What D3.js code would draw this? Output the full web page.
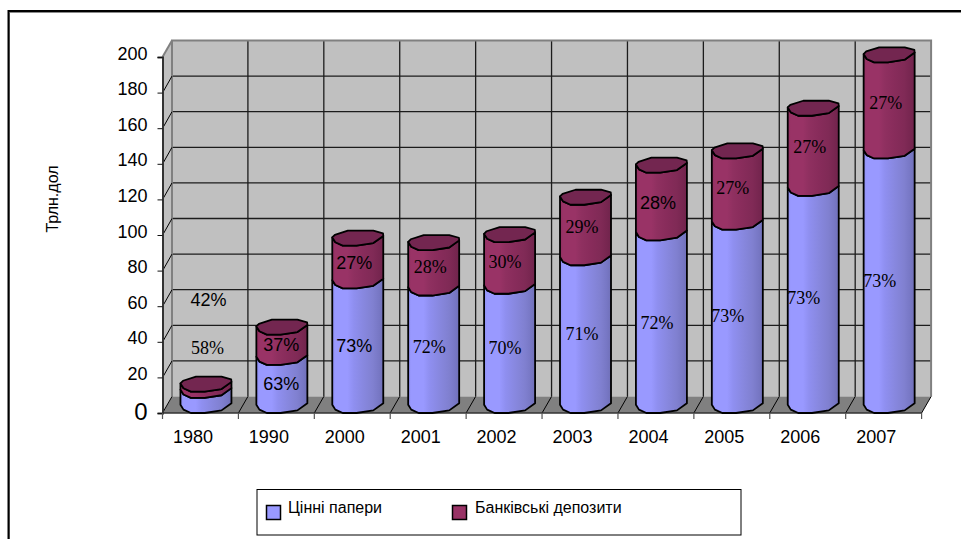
<!DOCTYPE html>
<html><head><meta charset="utf-8">
<script src="https://cdnjs.cloudflare.com/ajax/libs/d3/7.8.5/d3.min.js"></script>
<style>html,body{margin:0;padding:0;background:#fff;overflow:hidden}svg{display:block}</style>
</head><body><svg id="c" width="961" height="539"></svg>
<script>
const categories = ["1980","1990","2000","2001","2002","2003","2004","2005","2006","2007"];
const securities = [8.5,27,70,66,67,83,97,103,122,143];
const deposits   = [3.5,17,24,25.5,29,34,38,40,45,54];
const securityShare = [58,63,73,72,70,71,72,73,73,73];
const depositShare  = [42,37,27,28,30,29,28,27,27,27];
// where each percentage label sits, in axis units
const securityLabelAt = [36.5,16.3,37.6,37,36.5,44.4,51,54.5,64.6,74.2];
const depositLabelAt  = [63.5,38.2,84.3,82,84.8,104.5,118,126.4,149.4,174.2];
const securitySerif = [1,0,0,1,1,1,1,1,1,1];
const depositSerif  = [0,0,0,1,1,1,0,1,1,1];
const yTicks = [0,20,40,60,80,100,120,140,160,180,200];
const seriesNames = ["Цінні папери","Банківські депозити"];
const yTitle = "Трлн.дол";

const SANS="'Liberation Sans',Arial,sans-serif", SERIF="'Liberation Serif','Times New Roman',serif";
const svg=d3.select("#c");
const y=d3.scaleLinear().domain([0,200]).range([413,57]);
const x=d3.scaleBand().domain(categories).range([162.5,921.6]);
const dx=9.5, dy=16.5;
const left=x.range()[0], right=x.range()[1], bot=y(0), top_=y(200);

// outer frame
svg.append("path").attr("d",`M9.5,539V12.5H961`).attr("fill","none").attr("stroke","#8a8a8a").attr("stroke-width",1);
svg.append("path").attr("d",`M8.5,539V11H961`).attr("fill","none").attr("stroke","#000").attr("stroke-width",2);

// walls and floor
svg.append("rect").attr("x",left+dx).attr("y",top_-dy).attr("width",right-left).attr("height",bot-top_).attr("fill","#c0c0c0");
svg.append("path").attr("d",`M${left},${bot}L${left},${top_}L${left+dx},${top_-dy}L${left+dx},${bot-dy}Z`).attr("fill","#c0c0c0");
svg.append("path").attr("d",`M${left},${bot}L${left+dx},${bot-dy}H${right+dx}L${right},${bot}Z`).attr("fill","#808080");

const grid=svg.append("g").attr("stroke","#1c1c1c").attr("stroke-width",1.3);
grid.selectAll(".h").data(yTicks.slice(1,-1)).join("line").attr("x1",left+dx).attr("x2",right+dx).attr("y1",d=>y(d)-dy).attr("y2",d=>y(d)-dy);
const edges=categories.map(c=>x(c)).concat([right]);
grid.selectAll(".v").data(edges.slice(1,-1)).join("line").attr("x1",d=>d+dx).attr("x2",d=>d+dx).attr("y1",top_-dy).attr("y2",bot-dy);
// wall outline
svg.append("path").attr("d",`M${left+dx},${bot-dy}V${top_-dy}H${right+dx}V${bot-dy}`).attr("fill","none").attr("stroke","#808080").attr("stroke-width",2);
svg.append("path").attr("d",`M${left},${top_}L${left+dx},${top_-dy}`).attr("stroke","#808080").attr("stroke-width",2);
// diagonals
const diag=svg.append("g").attr("stroke","#000").attr("stroke-width",1);
diag.selectAll(".d").data(yTicks.slice(1,-1)).join("line").attr("x1",left+1).attr("x2",left+dx).attr("y1",d=>y(d)-1.5).attr("y2",d=>y(d)-dy);
diag.selectAll(".f").data(edges).join("line").attr("x1",d=>d).attr("x2",d=>d+dx).attr("y1",bot).attr("y2",bot-dy);

// axes
const yAxis=svg.append("g").attr("transform",`translate(${left},0)`).call(d3.axisLeft(y).tickValues(yTicks).tickSize(5).tickPadding(10));
yAxis.select(".domain").attr("stroke","#333").attr("stroke-width",2);
yAxis.selectAll(".tick line").attr("stroke","#111");
yAxis.selectAll("text").attr("font-family",SANS).attr("font-size",d=>d===0?24:18).attr("fill","#000").attr("dy",d=>d===0?"0.28em":"0.12em");
svg.append("line").attr("x1",left).attr("x2",right).attr("y1",bot).attr("y2",bot).attr("stroke","#333").attr("stroke-width",1.5);
svg.append("g").selectAll("line").data(edges).join("line").attr("x1",d=>d).attr("x2",d=>d).attr("y1",bot).attr("y2",bot+6).attr("stroke","#555").attr("stroke-width",1.2);
const xAxis=svg.append("g").attr("transform",`translate(-7.5,${bot})`).call(d3.axisBottom(x).tickSize(0).tickPadding(17));
xAxis.select(".domain").remove();
xAxis.selectAll("text").attr("font-family",SANS).attr("font-size",18).attr("fill","#000");

svg.append("text").attr("transform","translate(58,199) rotate(-90)").attr("text-anchor","middle").attr("font-family",SANS).attr("font-size",16).text(yTitle);

// gradients
const defs=svg.append("defs");
function grad(id,stops){defs.append("linearGradient").attr("id",id).selectAll("stop").data(stops).join("stop").attr("offset",d=>d[0]).attr("stop-color",d=>d[1]);}
grad("gBlue",[[0,"#9090f0"],[.06,"#9999ff"],[.3,"#9999ff"],[.42,"#8f8ff0"],[.6,"#8888e0"],[.8,"#8080d0"],[.92,"#7777c4"],[1,"#7070b8"]]);
grad("gDep",[[0,"#8f2f60"],[.06,"#993366"],[.3,"#993366"],[.42,"#8f3060"],[.6,"#882c5b"],[.8,"#802a56"],[.92,"#772650"],[1,"#70244c"]]);

// cylinder rim outline, as fractions of half width / half height
const rim=[[-1,-.1],[-.9,-.45],[-.39,-1],[.61,-1],[.99,-.65],[1,-.3],[.61,.65],[-.05,1],[-.59,1],[-.88,.55]];
const front=[[1,-.3],[.61,.65],[-.05,1],[-.59,1],[-.88,.55],[-1,-.1]];
const rx=25.5, ry=7.5;
const pt=(cx,cy,p)=>[cx+p[0]*rx,cy+p[1]*ry];
function body(cx,yLow,yHigh){
  const lo=front.map(p=>pt(cx,yLow-ry,p));
  const hi=front.slice().reverse().map(p=>pt(cx,yHigh-ry,p));
  return d3.line()(lo.concat(hi))+"Z";
}
const bars=svg.append("g").attr("stroke","#000").attr("stroke-width",1.8).attr("stroke-linejoin","round");
categories.forEach((c,i)=>{
  const cx=x(c)+x.bandwidth()/2+5.5;
  const s=securities[i], t=s+deposits[i];
  bars.append("path").attr("d",body(cx,y(0),y(s))).attr("fill","url(#gBlue)");
  bars.append("path").attr("d",body(cx,y(s),y(t))).attr("fill","url(#gDep)");
  bars.append("path").attr("d",d3.line()(rim.map(p=>pt(cx,y(t)-ry,p)))+"Z").attr("fill","#732650");
});

// percentage labels
const secOff=[7,5,2,1,1,2,1,-4,-4,-4], depOff=[8,5,2,2,1,2,2,1,2,2];
function labels(shares,at,serif,off){
  svg.append("g").selectAll("text").data(shares).join("text")
    .attr("x",(d,i)=>x(categories[i])+x.bandwidth()/2+off[i])
    .attr("y",(d,i)=>y(at[i])).attr("dy","0.35em").attr("text-anchor","middle")
    .attr("font-family",(d,i)=>serif[i]?SERIF:SANS).attr("font-size",18).attr("fill","#000")
    .text(d=>d+"%");
}
labels(securityShare,securityLabelAt,securitySerif,secOff);
labels(depositShare,depositLabelAt,depositSerif,depOff);

// legend
svg.append("rect").attr("x",257).attr("y",489.5).attr("width",484).attr("height",45.5).attr("fill","#fff").attr("stroke","#000").attr("stroke-width",1);
const legendX=[[266,288],[452,475]], legendFill=["#9999ff","#993366"];
seriesNames.forEach((n,i)=>{
  svg.append("rect").attr("x",legendX[i][0]+.5).attr("y",505.5).attr("width",14).attr("height",14).attr("fill",legendFill[i]).attr("stroke","#000").attr("stroke-width",1.5);
  svg.append("text").attr("x",legendX[i][1]).attr("y",513).attr("font-family",SANS).attr("font-size",16).text(n);
});
</script></body></html>
